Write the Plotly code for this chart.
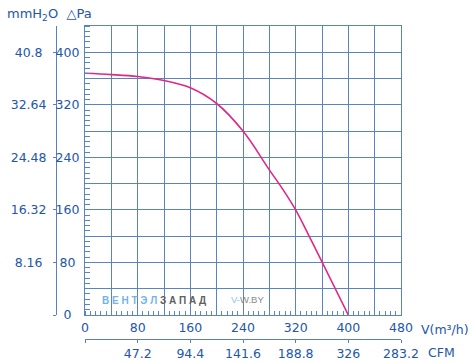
import plotly.graph_objects as go

# ---- data ----
flow_m3h = [0, 40, 80, 120, 160, 200, 240, 280, 300, 320, 340, 360, 400]
pressure_pa = [368, 366, 363, 357, 346, 322, 280, 221, 192, 160, 121, 81, 0]

pa_ticks = [0, 80, 160, 240, 320, 400]
pa_labels = ["0\u00a0\u00a0", "80\u00a0", "160", "240", "320", "400"]
mmh2o_ticks = [0, 8.16, 16.32, 24.48, 32.64, 40.8]
mmh2o_labels = ["", "8.16\u00a0", "16.32", "24.48", "32.64", "40.8\u00a0"]
v_ticks = [0, 80, 160, 240, 320, 400, 480]
v_labels = ["0", "80", "160", "240", "320", "400", "480"]
cfm_labels = ["", "47.2", "94.4", "141.6", "188.8", "326", "283.2"]

PA_TO_MMH2O = 0.102
X_MAX, Y_MAX, GRID_STEP, MINOR_STEP = 480, 440, 40, 8

TXT = "#2356a8"
GRID = "#5a84c0"
AXL = "#5a80bb"
FONT = "DejaVu Sans, Verdana, sans-serif"
FS = 12.5

grid_vals_x = list(range(0, X_MAX + 1, GRID_STEP))
grid_vals_y = list(range(0, Y_MAX + 1, GRID_STEP))
grid_text_x = [v_labels[v_ticks.index(v)] if v in v_ticks else "" for v in grid_vals_x]
grid_text_y = [pa_labels[pa_ticks.index(v)] if v in pa_ticks else "" for v in grid_vals_y]

fig = go.Figure()
fig.add_trace(go.Scatter(
    x=flow_m3h, y=pressure_pa, mode="lines",
    line=dict(color="#e0288a", width=1.6, shape="spline", smoothing=1.0),
    hoverinfo="skip", showlegend=False,
))
# invisible helper traces so the secondary axes render
fig.add_trace(go.Scatter(x=[None], y=[None], xaxis="x2", yaxis="y", showlegend=False))
fig.add_trace(go.Scatter(x=[None], y=[None], xaxis="x", yaxis="y2", showlegend=False))

fig.update_layout(
    width=473, height=363,
    margin=dict(l=0, r=0, t=0, b=0),
    paper_bgcolor="white", plot_bgcolor="white",
    font=dict(family=FONT, size=FS, color=TXT),
    showlegend=False,
    xaxis=dict(
        domain=[85 / 473, 401 / 473], range=[0, X_MAX], automargin=False,
        tickmode="array", tickvals=grid_vals_x, ticktext=grid_text_x,
        showgrid=True, gridcolor=GRID, gridwidth=1.2,
        showline=True, linecolor=GRID, linewidth=1.2, mirror=True,
        zeroline=False, ticks="", ticklabelstandoff=1,
        minor=dict(tickvals=list(range(0, X_MAX + 1, MINOR_STEP)), ticks="inside",
                   ticklen=4, tickcolor=GRID, tickwidth=1, showgrid=False),
        tickfont=dict(size=FS, color=TXT),
    ),
    yaxis=dict(
        domain=[48 / 363, 337 / 363], range=[0, Y_MAX], automargin=False,
        tickmode="array", tickvals=grid_vals_y, ticktext=grid_text_y,
        showgrid=True, gridcolor=GRID, gridwidth=1.2,
        showline=True, linecolor=GRID, linewidth=1.2, mirror=True,
        zeroline=False, ticks="", ticklabelstandoff=2,
        minor=dict(tickvals=list(range(0, Y_MAX + 1, MINOR_STEP)), ticks="inside",
                   ticklen=5, tickcolor=GRID, tickwidth=1, showgrid=False),
        tickfont=dict(size=FS, color=TXT),
    ),
    xaxis2=dict(
        overlaying="x", anchor="free", position=(363 - 339) / 363, side="bottom",
        range=[0, X_MAX], automargin=False, tickmode="array", tickvals=v_ticks, ticktext=cfm_labels,
        showgrid=False, zeroline=False, showline=True, linecolor=AXL, linewidth=1,
        ticks="outside", ticklen=3, tickcolor=AXL, tickwidth=1,
        tickfont=dict(size=FS, color=TXT),
    ),
    yaxis2=dict(
        overlaying="y", anchor="free", position=56 / 473, side="left",
        range=[0, Y_MAX * PA_TO_MMH2O], automargin=False, tickmode="array",
        tickvals=mmh2o_ticks, ticktext=mmh2o_labels,
        showgrid=False, zeroline=False, showline=True, linecolor=AXL, linewidth=1,
        ticks="outside", ticklen=3, tickcolor=AXL, tickwidth=1,
        tickfont=dict(size=FS, color=TXT), ticklabelstandoff=4,
    ),
)

ann = [
    dict(text="mmH<sub>2</sub>O\u00a0\u00a0△Pa", x=5 / 473, y=(363 - 15) / 363,
         xanchor="left", yanchor="middle", font=dict(size=13, color=TXT)),
    dict(text="V(m³/h)", x=445 / 473, y=(363 - 329) / 363,
         xanchor="center", yanchor="middle", font=dict(size=FS, color=TXT)),
    dict(text="CFM", x=441 / 473, y=(363 - 352) / 363,
         xanchor="center", yanchor="middle", font=dict(size=FS, color=TXT)),
    dict(text="<b><span style='color:#72b4ea'>В Е Н Т Э Л </span>"
              "<span style='color:#606060'>З А П А Д</span></b>",
         x=100 / 473, y=(363 - 300) / 363, xanchor="left", yanchor="middle",
         font=dict(size=10, family="Liberation Sans, Arial, sans-serif")),
    dict(text="<span style='color:#8cc4ee'>V-</span><span style='color:#8a8a8a'>W.BY</span>",
         x=229 / 473, y=(363 - 299) / 363, xanchor="left", yanchor="middle",
         font=dict(size=9.5, family="Liberation Sans, Arial, sans-serif")),
]
for a in ann:
    a.update(xref="paper", yref="paper", showarrow=False)
fig.update_layout(annotations=ann)

fig.write_html("out.html", config={"displayModeBar": False},
               post_script="document.body.style.margin='0px';")
